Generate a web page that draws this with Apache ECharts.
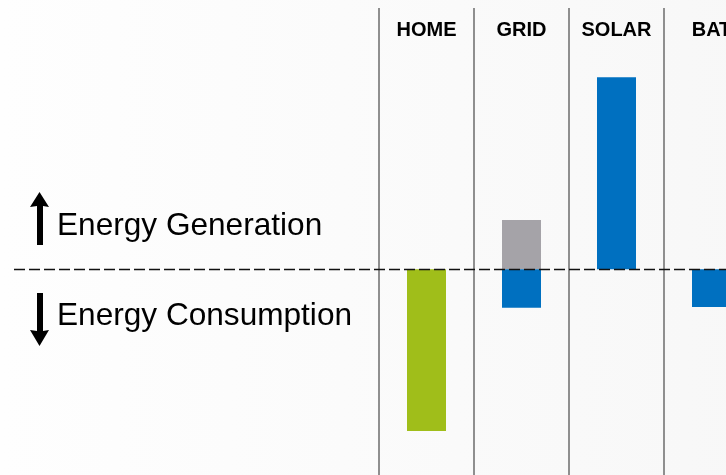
<!DOCTYPE html>
<html>
<head>
<meta charset="utf-8">
<script src="https://cdn.jsdelivr.net/npm/echarts@6/dist/echarts.min.js"></script>
<style>html,body{margin:0;padding:0;overflow:hidden;width:726px;height:475px;}#c{width:800px;height:475px;}</style>
</head>
<body>
<div id="c"></div>
<script>
// Data
var categories = ['HOME', 'GRID', 'SOLAR', 'BAT'];
var homeConsumption = [-4.04, null, null, null];
var gridImport = [null, 1.23, null, null];
var blueFlows = [null, -0.96, 4.8, -0.94];
var legendTexts = ['Energy Generation', 'Energy Consumption'];

var chart = echarts.init(document.getElementById('c'));
var yMin = -5.14, yMax = 6.53;
var option = {
  backgroundColor: {
    type: 'linear', x: 0, y: 0, x2: 1, y2: 0,
    colorStops: [{offset: 0, color: '#fefefe'}, {offset: 1, color: '#f7f7f7'}]
  },
  animation: false,
  grid: [
    {left: 379, width: 380, top: 8, bottom: 0, containLabel: false},
    {left: 14, right: 0, top: 8, bottom: 0, containLabel: false}
  ],
  xAxis: [
    {
      type: 'category', gridIndex: 0, data: categories, position: 'top',
      axisLine: {show: false}, axisTick: {show: false},
      axisLabel: {interval: 0, inside: true, margin: 22, verticalAlign: 'middle', fontFamily: 'Liberation Sans', fontWeight: 'bold', fontSize: 20, color: '#000'},
      splitLine: {show: true, interval: 0, lineStyle: {color: '#8f8f8f', width: 2}}
    },
    {type: 'value', gridIndex: 1, show: false, min: 0, max: 1}
  ],
  yAxis: [
    {type: 'value', gridIndex: 0, min: yMin, max: yMax, show: false, splitLine: {show: false}},
    {type: 'value', gridIndex: 1, min: yMin, max: yMax, show: false, splitLine: {show: false}}
  ],
  series: [
    {type: 'bar', name: 'Home', xAxisIndex: 0, yAxisIndex: 0, stack: 's', barWidth: 39, data: homeConsumption, itemStyle: {color: '#A0BE1A'}},
    {type: 'bar', name: 'Grid import', xAxisIndex: 0, yAxisIndex: 0, stack: 's', barWidth: 39, data: gridImport, itemStyle: {color: '#A5A3A8'}},
    {type: 'bar', name: 'Flows', xAxisIndex: 0, yAxisIndex: 0, stack: 's', barWidth: 39, data: blueFlows, itemStyle: {color: '#0070C0'}},
    {
      type: 'line', xAxisIndex: 1, yAxisIndex: 1, data: [], z: 10,
      markLine: {
        silent: true, symbol: 'none', label: {show: false},
        lineStyle: {color: '#111', type: [11, 4], width: 1.3},
        data: [{yAxis: 0}]
      }
    }
  ],
  graphic: [
    {type: 'polygon', shape: {points: [[37, 245], [37, 206], [30, 207], [39.5, 192], [49, 207], [43, 206], [43, 245]]}, style: {fill: '#000'}},
    {type: 'polygon', shape: {points: [[37, 293], [37, 331], [30, 330], [39.5, 346], [49, 330], [43, 331], [43, 293]]}, style: {fill: '#000'}},
    {type: 'text', x: 57, y: 226, style: {text: legendTexts[0], fontFamily: 'Liberation Sans', fontSize: 31.6, fill: '#000', verticalAlign: 'middle'}},
    {type: 'text', x: 57, y: 316, style: {text: legendTexts[1], fontFamily: 'Liberation Sans', fontSize: 31.6, fill: '#000', verticalAlign: 'middle'}}
  ]
};
chart.setOption(option);
</script>
</body>
</html>
